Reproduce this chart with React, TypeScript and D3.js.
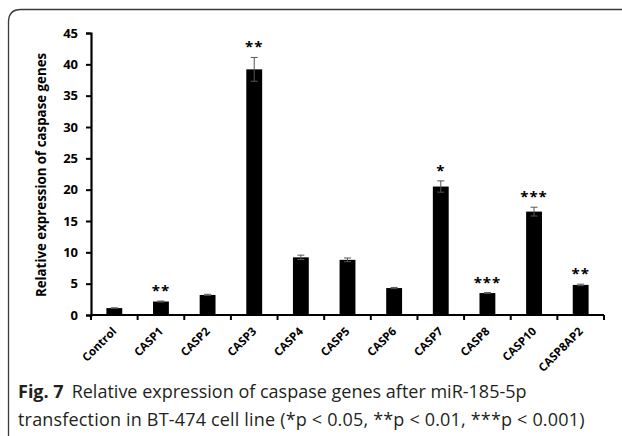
import React, { useEffect, useRef } from 'react'
import * as d3 from 'd3'

const categories = ['Control', 'CASP1', 'CASP2', 'CASP3', 'CASP4', 'CASP5', 'CASP6', 'CASP7', 'CASP8', 'CASP10', 'CASP8AP2']
const means = [1.1, 2.15, 3.2, 39.2, 9.2, 8.8, 4.3, 20.5, 3.5, 16.5, 4.8]
const errors = [0.05, 0.08, 0.1, 1.9, 0.35, 0.3, 0.1, 0.9, 0.08, 0.7, 0.12]
const stars = ['', '**', '', '**', '', '', '', '*', '***', '***', '**']
const yTicks = [0, 5, 10, 15, 20, 25, 30, 35, 40, 45]

const W = 622
const H = 436
const margin = { left: 91, right: 18, top: 33, bottom: 121 }

export default function App() {
  const svgRef = useRef<SVGSVGElement>(null)

  useEffect(() => {
    if (!svgRef.current) return
    const svg = d3.select(svgRef.current)
    svg.selectAll('*').remove()

    // 外框（圓角左上）
    svg.append('path')
      .attr('d', `M8.5,${H} L8.5,22 Q8.5,9.5 21,9.5 L${W},9.5`)
      .style('fill', 'none')
      .style('stroke', '#3a3a3a')
      .style('stroke-width', 1.3)

    const x = d3.scaleBand<string>()
      .domain(categories)
      .range([margin.left, W - margin.right])
      .paddingInner(0.66)
      .paddingOuter(0.33)

    const y = d3.scaleLinear()
      .domain([0, 45])
      .range([H - margin.bottom, margin.top])

    const g = svg.append('g')

    // 柱子
    g.selectAll('rect.bar')
      .data(categories)
      .enter()
      .append('rect')
      .attr('class', 'bar')
      .attr('x', d => x(d)!)
      .attr('width', x.bandwidth())
      .attr('y', (d, i) => y(means[i]))
      .attr('height', (d, i) => y(0) - y(means[i]))
      .style('fill', '#000')

    // 誤差線
    categories.forEach((c, i) => {
      const cx = x(c)! + x.bandwidth() / 2
      const top = y(means[i] + errors[i])
      const bot = y(means[i] - errors[i])
      const eg = g.append('g').style('stroke', '#555').style('stroke-width', 1)
      eg.append('line').attr('x1', cx).attr('x2', cx).attr('y1', top).attr('y2', bot)
      eg.append('line').attr('x1', cx - 3.5).attr('x2', cx + 3.5).attr('y1', top).attr('y2', top)
      eg.append('line').attr('x1', cx - 3.5).attr('x2', cx + 3.5).attr('y1', bot).attr('y2', bot)

      if (stars[i]) {
        g.append('text')
          .attr('x', cx)
          .attr('y', top - 5)
          .attr('text-anchor', 'middle')
          .style('font-family', '"Open Sans", sans-serif')
          .style('font-weight', 700)
          .style('font-size', '15px')
          .style('letter-spacing', '1px')
          .text(stars[i])
      }
    })

    // Y 軸
    const yAxis = svg.append('g')
      .attr('transform', `translate(${margin.left},0)`)
      .call(d3.axisLeft(y).tickValues(yTicks).tickSize(5).tickPadding(8))
    yAxis.selectAll('text')
      .style('font-family', '"Open Sans", sans-serif')
      .style('font-weight', 700)
      .style('font-size', '13px')
      .style('fill', '#000')

    // X 軸
    const xAxis = svg.append('g')
      .attr('transform', `translate(0,${y(0)})`)
    xAxis.append('line')
      .attr('x1', margin.left).attr('x2', W - margin.right)
      .style('stroke', '#000').style('stroke-width', 2.2)
    const step = x.step()
    d3.range(categories.length + 1).forEach(k => {
      const tx = margin.left + k * step
      xAxis.append('line')
        .attr('x1', tx).attr('x2', tx).attr('y1', 0).attr('y2', 5)
        .style('stroke', '#000').style('stroke-width', 2)
    })
    categories.forEach(c => {
      const cx = x(c)! + x.bandwidth() / 2
      xAxis.append('text')
        .attr('transform', `translate(${cx + 3},${17}) rotate(-45)`)
        .attr('text-anchor', 'end')
        .style('font-family', '"Open Sans", sans-serif')
        .style('font-weight', 700)
        .style('font-size', '11.5px')
        .text(c)
    })

    svg.selectAll('.domain').style('stroke', '#000').style('stroke-width', 2.2)
    svg.selectAll('.tick line').style('stroke', '#000').style('stroke-width', 2)

    // Y 軸標題
    svg.append('text')
      .attr('transform', 'translate(46,175) rotate(-90)')
      .attr('text-anchor', 'middle')
      .style('font-family', '"Open Sans", sans-serif')
      .style('font-weight', 700)
      .style('font-size', '13.3px')
      .text('Relative expression of caspase genes')

    // 圖說
    const cap = svg.append('g')
      .style('font-family', '"Open Sans", sans-serif')
      .style('font-size', '18px')
      .style('fill', '#231f20')
    const l1 = cap.append('text').attr('x', 18).attr('y', 398)
    l1.append('tspan').style('font-weight', 700).text('Fig. 7')
    l1.append('tspan').attr('dx', 8).text('Relative expression of caspase genes after miR-185-5p')
    cap.append('text').attr('x', 18).attr('y', 426)
      .style('letter-spacing', '0.18px')
      .text('transfection in BT-474 cell line (*p < 0.05, **p < 0.01, ***p < 0.001)')
  }, [])

  return (
    <svg
      ref={svgRef}
      width={W}
      height={H}
      style={{ position: 'absolute', left: 0, top: 0, background: '#fff' }}
    />
  )
}
